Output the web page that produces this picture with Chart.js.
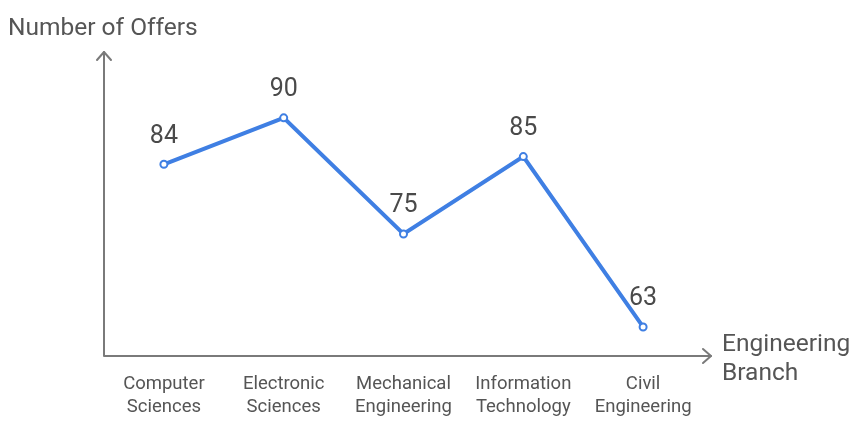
<!DOCTYPE html>
<html>
<head>
<meta charset="utf-8">
<script src="https://cdn.jsdelivr.net/npm/chart.js@4"></script>
<style>
html,body{margin:0;padding:0;background:#fff;}
#wrap{width:867px;height:430px;position:relative;}
</style>
</head>
<body>
<div id="wrap"><canvas id="c" width="867" height="430"></canvas></div>
<script>
const categories = [["Computer","Sciences"],["Electronic","Sciences"],["Mechanical","Engineering"],["Information","Technology"],["Civil","Engineering"]];
const offers = [84, 90, 75, 85, 63];
const yTitle = "Number of Offers";
const xTitle = ["Engineering","Branch"];

const FONT = "Roboto, 'Open Sans', sans-serif";
const AXIS = "#7a7a7a";
const TEXT = "#555555";

const decor = {
  id: 'decor',
  afterDatasetsDraw(chart) {
    const ctx = chart.ctx, a = chart.chartArea, xs = chart.scales.x, ys = chart.scales.y;
    ctx.save();
    // axes
    ctx.strokeStyle = AXIS; ctx.lineWidth = 2; ctx.lineCap = 'round'; ctx.lineJoin='round';
    const x0 = a.left, y0 = a.bottom, xEnd = a.right + 8, yTop = a.top;
    ctx.beginPath();
    ctx.moveTo(x0, yTop); ctx.lineTo(x0, y0); ctx.lineTo(xEnd, y0);
    ctx.stroke();
    ctx.beginPath();
    ctx.moveTo(x0-7, yTop+8); ctx.lineTo(x0, yTop); ctx.lineTo(x0+7, yTop+8);
    ctx.moveTo(xEnd-8, y0-7); ctx.lineTo(xEnd, y0); ctx.lineTo(xEnd-8, y0+7);
    ctx.stroke();
    // titles
    ctx.fillStyle = TEXT; ctx.font = "24.5px " + FONT;
    ctx.textAlign = 'left'; ctx.textBaseline = 'middle';
    ctx.fillText(yTitle, 8, 29);
    ctx.fillText(xTitle[0], xEnd + 11, 345);
    ctx.fillText(xTitle[1], xEnd + 11, 374);
    // tick labels
    ctx.font = "18.5px " + FONT; ctx.textAlign = 'center';
    categories.forEach((c, i) => {
      const px = xs.getPixelForValue(i);
      c.forEach((line, j) => ctx.fillText(line, px, y0 + 28 + j * 23));
    });
    // data labels
    ctx.font = "25px " + FONT; ctx.fillStyle = "#4a4a4a";
    offers.forEach((v, i) => {
      ctx.fillText(String(v), xs.getPixelForValue(i), ys.getPixelForValue(v) - 28);
    });
    ctx.restore();
  }
};

new Chart(document.getElementById('c'), {
  type: 'line',
  data: {
    labels: categories,
    datasets: [{
      data: offers,
      borderColor: '#3f7fe3',
      borderWidth: 4,
      pointRadius: 3.5,
      pointBorderWidth: 2,
      pointBackgroundColor: '#ffffff',
      pointBorderColor: '#3f7fe3',
      tension: 0
    }]
  },
  options: {
    responsive: false,
    animation: false,
    layout: { padding: { left: 104, right: 164, top: 52, bottom: 74 } },
    plugins: { legend: { display: false }, tooltip: { enabled: false } },
    scales: {
      x: { display: false, offset: true },
      y: { display: false, min: 59.25, max: 98.5 }
    }
  },
  plugins: [decor]
});
</script>
</body>
</html>
